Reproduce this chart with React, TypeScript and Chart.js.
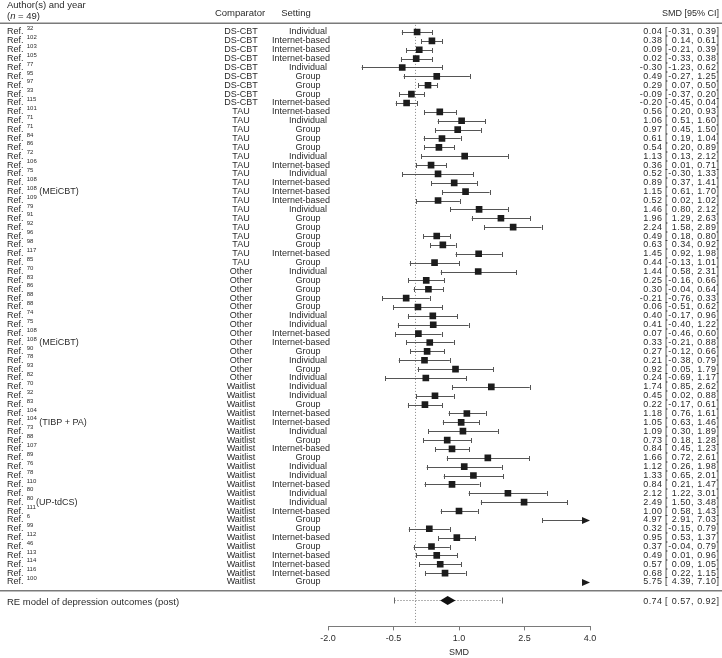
import React, { useEffect, useRef } from 'react';
import { Chart, registerables } from 'chart.js';

Chart.register(...registerables);

// ---------------- DATA ----------------
const REFS = ['32','102','103','105','77','95','97','33','115','101','71','71','84','86','72','106','75','108','108','109','79','91','92','96','98','117','85','70','83','86','88','88','74','75','108','108','90','78','93','82','70','32','83','104','104','73','88','107','89','76','78','110','80','80','111','6','99','112','46','113','114','116','100'];
const NOTES = ['','','','','','','','','','','','','','','','','','','(MEiCBT)','','','','','','','','','','','','','','','','','(MEiCBT)','','','','','','','','','(TIBP + PA)','','','','','','','','','(UP-tdCS)','','','','','','','','',''];
const COMPARATORS = ['DS-CBT','DS-CBT','DS-CBT','DS-CBT','DS-CBT','DS-CBT','DS-CBT','DS-CBT','DS-CBT','TAU','TAU','TAU','TAU','TAU','TAU','TAU','TAU','TAU','TAU','TAU','TAU','TAU','TAU','TAU','TAU','TAU','TAU','Other','Other','Other','Other','Other','Other','Other','Other','Other','Other','Other','Other','Other','Waitlist','Waitlist','Waitlist','Waitlist','Waitlist','Waitlist','Waitlist','Waitlist','Waitlist','Waitlist','Waitlist','Waitlist','Waitlist','Waitlist','Waitlist','Waitlist','Waitlist','Waitlist','Waitlist','Waitlist','Waitlist','Waitlist','Waitlist'];
const SETTINGS = ['Individual','Internet-based','Internet-based','Internet-based','Individual','Group','Group','Group','Internet-based','Internet-based','Individual','Group','Group','Group','Individual','Internet-based','Individual','Internet-based','Internet-based','Internet-based','Individual','Group','Group','Group','Group','Internet-based','Group','Individual','Group','Group','Group','Group','Individual','Individual','Internet-based','Internet-based','Group','Individual','Group','Individual','Individual','Individual','Group','Internet-based','Internet-based','Individual','Group','Internet-based','Group','Individual','Individual','Internet-based','Individual','Individual','Internet-based','Group','Group','Internet-based','Group','Internet-based','Internet-based','Internet-based','Group'];
const SMD = [0.04,0.38,0.09,0.02,-0.30,0.49,0.29,-0.09,-0.20,0.56,1.06,0.97,0.61,0.54,1.13,0.36,0.52,0.89,1.15,0.52,1.46,1.96,2.24,0.49,0.63,1.45,0.44,1.44,0.25,0.30,-0.21,0.06,0.40,0.41,0.07,0.33,0.27,0.21,0.92,0.24,1.74,0.45,0.22,1.18,1.05,1.09,0.73,0.84,1.66,1.12,1.33,0.84,2.12,2.49,1.00,4.97,0.32,0.95,0.37,0.49,0.57,0.68,5.75];
const CI_LOW = [-0.31,0.14,-0.21,-0.33,-1.23,-0.27,0.07,-0.37,-0.45,0.20,0.51,0.45,0.19,0.20,0.13,0.01,-0.30,0.37,0.61,0.02,0.80,1.29,1.58,0.18,0.34,0.92,-0.13,0.58,-0.16,-0.04,-0.76,-0.51,-0.17,-0.40,-0.46,-0.21,-0.12,-0.38,0.05,-0.69,0.85,0.02,-0.17,0.76,0.63,0.30,0.18,0.45,0.72,0.26,0.65,0.21,1.22,1.50,0.58,2.91,-0.15,0.53,-0.04,0.01,0.09,0.22,4.39];
const CI_HIGH = [0.39,0.61,0.39,0.38,0.62,1.25,0.50,0.20,0.04,0.93,1.60,1.50,1.04,0.89,2.12,0.71,1.33,1.41,1.70,1.02,2.12,2.63,2.89,0.80,0.92,1.98,1.01,2.31,0.66,0.64,0.33,0.62,0.96,1.22,0.60,0.88,0.66,0.79,1.79,1.17,2.62,0.88,0.61,1.61,1.46,1.89,1.28,1.23,2.61,1.98,2.01,1.47,3.01,3.48,1.43,7.03,0.79,1.37,0.79,0.96,1.05,1.15,7.10];
const X_TICKS = [-2, -0.5, 1, 2.5, 4];
const RE_SMD = 0.74;
const RE_LOW = 0.57;
const RE_HIGH = 0.92;
const PI_LOW = -0.50;
const PI_HIGH = 1.99;
const RE_LABEL = 'RE model of depression outcomes (post)';

// ---------------- LAYOUT ----------------
const W = 722;
const H = 658;
const ROW0 = 32;
const STEP = 550 / 62;
const N = SMD.length;
const RE_ROW = N + 1.03;
const FF = '"Liberation Sans", Arial, sans-serif';
const TXT = '#2b2b2b';
const fmt = (v: number) => v.toFixed(2);

const forestPlugin = {
  id: 'forest',
  afterLayout(chart: any) {
    // map row index -> pixel so that row 0 sits at ROW0 with STEP spacing
    const y = chart.scales.y;
    const a = chart.chartArea;
    y.min = (a.top - ROW0) / STEP;
    y.max = (a.bottom - ROW0) / STEP;
    y.configure();
  },
  beforeDatasetsDraw(chart: any) {
    const { ctx, chartArea } = chart;
    const x = chart.scales.x;
    const y = chart.scales.y;
    ctx.save();
    // zero reference line
    const x0 = Math.round(x.getPixelForValue(0)) + 0.5;
    ctx.strokeStyle = '#8a8a8a';
    ctx.lineWidth = 1;
    ctx.setLineDash([1, 2]);
    ctx.beginPath();
    ctx.moveTo(x0, y.getPixelForValue(-0.8));
    ctx.lineTo(x0, chartArea.bottom - 2);
    ctx.stroke();
    ctx.setLineDash([]);

    // whiskers
    ctx.strokeStyle = '#555';
    ctx.fillStyle = '#1c1c1c';
    ctx.lineWidth = 1;
    const xmin = x.min, xmax = x.max;
    for (let i = 0; i < N; i++) {
      const yy = Math.round(y.getPixelForValue(i)) + 0.5;
      const lo = CI_LOW[i], hi = CI_HIGH[i];
      const a = Math.max(lo, xmin);
      const b = Math.min(hi, xmax);
      const pa = x.getPixelForValue(a);
      let pb = x.getPixelForValue(b);
      const arrow = hi > xmax;
      if (arrow) pb -= 8;
      if (pa < pb) {
        ctx.beginPath();
        ctx.moveTo(pa, yy);
        ctx.lineTo(pb, yy);
        ctx.stroke();
      }
      if (lo >= xmin && lo <= xmax) {
        const c = Math.round(x.getPixelForValue(lo)) + 0.5;
        ctx.beginPath();
        ctx.moveTo(c, yy - 2.5);
        ctx.lineTo(c, yy + 2.5);
        ctx.stroke();
      }
      if (!arrow) {
        const c = Math.round(x.getPixelForValue(hi)) + 0.5;
        ctx.beginPath();
        ctx.moveTo(c, yy - 2.5);
        ctx.lineTo(c, yy + 2.5);
        ctx.stroke();
      } else {
        const tip = x.getPixelForValue(xmax);
        ctx.beginPath();
        ctx.moveTo(tip, yy);
        ctx.lineTo(tip - 8, yy - 3.5);
        ctx.lineTo(tip - 8, yy + 3.5);
        ctx.closePath();
        ctx.fill();
      }
    }

    // RE model: prediction interval + diamond
    const yr = Math.round(y.getPixelForValue(RE_ROW)) + 0.5;
    const pl = Math.round(x.getPixelForValue(PI_LOW)) + 0.5;
    const ph = Math.round(x.getPixelForValue(PI_HIGH)) + 0.5;
    ctx.strokeStyle = '#666';
    ctx.setLineDash([1, 2]);
    ctx.beginPath();
    ctx.moveTo(pl, yr);
    ctx.lineTo(ph, yr);
    ctx.stroke();
    ctx.setLineDash([]);
    ctx.beginPath();
    ctx.moveTo(pl, yr - 3);
    ctx.lineTo(pl, yr + 3);
    ctx.moveTo(ph, yr - 3);
    ctx.lineTo(ph, yr + 3);
    ctx.stroke();
    ctx.fillStyle = '#111';
    ctx.beginPath();
    ctx.moveTo(x.getPixelForValue(RE_LOW), yr);
    ctx.lineTo(x.getPixelForValue(RE_SMD), yr - 4.5);
    ctx.lineTo(x.getPixelForValue(RE_HIGH), yr);
    ctx.lineTo(x.getPixelForValue(RE_SMD), yr + 4.5);
    ctx.closePath();
    ctx.fill();
    ctx.restore();
  },
  afterDraw(chart: any) {
    const { ctx } = chart;
    const y = chart.scales.y;
    ctx.save();
    // horizontal rules
    ctx.strokeStyle = '#7a7a7a';
    ctx.lineWidth = 1.5;
    [-1, N].forEach((r) => {
      const yy = y.getPixelForValue(r);
      ctx.beginPath();
      ctx.moveTo(0, yy);
      ctx.lineTo(W, yy);
      ctx.stroke();
    });

    ctx.fillStyle = TXT;
    ctx.textBaseline = 'middle';
    const f9 = `9px ${FF}`;
    const f6 = `6px ${FF}`;
    const fNum = `9px ${FF}`;

    const drawCI = (est: number, lo: number, hi: number, yy: number) => {
      ctx.font = fNum;
      (ctx as any).letterSpacing = '0.45px';
      ctx.textAlign = 'right';
      ctx.fillText(fmt(est), 662.5, yy);
      ctx.textAlign = 'left';
      ctx.fillText('[', 665, yy);
      ctx.textAlign = 'right';
      ctx.fillText(fmt(lo) + ',', 694, yy);
      ctx.fillText(fmt(hi) + ']', 719.4, yy);
      (ctx as any).letterSpacing = '0px';
    };

    // headers
    ctx.font = `9.5px ${FF}`;
    ctx.textAlign = 'left';
    ctx.fillText('Author(s) and year', 7, y.getPixelForValue(-2.95));
    const yN = y.getPixelForValue(-1.72);
    let cx = 7;
    ctx.fillText('(', cx, yN);
    cx += ctx.measureText('(').width;
    ctx.font = `italic 9.5px ${FF}`;
    ctx.fillText('n', cx, yN);
    cx += ctx.measureText('n').width;
    ctx.font = `9.5px ${FF}`;
    ctx.fillText(' = 49)', cx, yN);
    const yH = y.getPixelForValue(-2.12);
    ctx.textAlign = 'center';
    ctx.fillText('Comparator', 240, yH);
    ctx.fillText('Setting', 296, yH);
    ctx.textAlign = 'right';
    ctx.font = `9px ${FF}`;
    ctx.fillText('SMD [95% CI]', 719, yH);

    // rows
    for (let i = 0; i < N; i++) {
      const yy = y.getPixelForValue(i);
      ctx.font = f9;
      ctx.textAlign = 'left';
      ctx.fillText('Ref.', 7, yy);
      let px = 7 + ctx.measureText('Ref.').width + 3.2;
      ctx.font = f6;
      ctx.fillText(REFS[i], px, yy - 3.5);
      px += ctx.measureText(REFS[i]).width + 2.5;
      ctx.font = f9;
      if (NOTES[i]) ctx.fillText(NOTES[i], px, yy);
      ctx.textAlign = 'center';
      ctx.fillText(COMPARATORS[i], 241, yy);
      ctx.fillText(SETTINGS[i], SETTINGS[i] === 'Internet-based' ? 301 : 308, yy);
      drawCI(SMD[i], CI_LOW[i], CI_HIGH[i], yy);
    }

    // RE row text
    const yr = y.getPixelForValue(RE_ROW) + 2;
    ctx.font = `9.5px ${FF}`;
    ctx.textAlign = 'left';
    ctx.fillText(RE_LABEL, 7, yr);
    drawCI(RE_SMD, RE_LOW, RE_HIGH, yr);
    ctx.restore();
  },
};

export default function App() {
  const ref = useRef<HTMLCanvasElement | null>(null);
  useEffect(() => {
    if (!ref.current) return;
    const chart = new Chart(ref.current, {
      type: 'scatter',
      data: {
        datasets: [
          {
            data: SMD.map((v, i) => ({ x: v, y: i })),
            backgroundColor: '#1c1c1c',
            borderWidth: 0,
            pointStyle: 'rect',
            pointRadius: 4.7,
            pointHoverRadius: 4.7,
          },
        ],
      },
      options: {
        responsive: false,
        animation: false,
        devicePixelRatio: 1,
        layout: { padding: { left: 328, right: 132, top: 0, bottom: 0 } },
        plugins: { legend: { display: false }, tooltip: { enabled: false } },
        events: [],
        scales: {
          x: {
            type: 'linear',
            min: -2,
            max: 4,
            afterBuildTicks: (scale: any) => {
              scale.ticks = X_TICKS.map((v) => ({ value: v }));
            },
            grid: { display: true, drawOnChartArea: false, drawTicks: true, tickLength: 4, color: '#7a7a7a' },
            border: { display: true, color: '#7a7a7a', width: 1 },
            ticks: {
              color: TXT,
              font: { family: FF, size: 9 },
              padding: 3,
              maxRotation: 0,
              callback: (v: any) => Number(v).toFixed(1),
            },
            title: { display: true, text: 'SMD', color: TXT, font: { family: FF, size: 9 }, padding: { top: 0, bottom: 0 } },
          },
          y: { type: 'linear', display: false, reverse: true, min: -4, max: 67 },
        },
      },
      plugins: [forestPlugin],
    });
    return () => chart.destroy();
  }, []);
  return (
    <div style={{ position: 'absolute', left: 0, top: 0, width: W, height: H, background: '#fff' }}>
      <canvas ref={ref} width={W} height={H} style={{ width: W, height: H, display: 'block' }} />
    </div>
  );
}
